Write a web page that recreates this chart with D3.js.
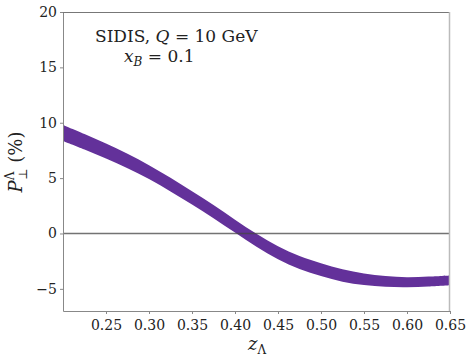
<!DOCTYPE html>
<meta charset="utf-8">
<style>
body { margin: 0; background: #fff; }
.axis path { stroke: #888; }
.axis line { stroke: #888; }
</style>
<body>
<script src="https://cdn.jsdelivr.net/npm/d3@7"></script>
<script>

var width = 471;
var height = 363;
var serif = "'DejaVu Serif', serif";

// z_Lambda grid and band edges (%)
var zGrid = [0.200, 0.225, 0.250, 0.275, 0.300, 0.325, 0.350, 0.375, 0.400, 0.425,
             0.450, 0.475, 0.500, 0.525, 0.550, 0.575, 0.600, 0.625, 0.650];
var upper = [9.80, 8.98, 8.13, 7.20, 6.17, 5.04, 3.82, 2.57, 1.25, -0.03,
             -1.15, -2.03, -2.68, -3.22, -3.61, -3.85, -3.95, -3.89, -3.79];
var lower = [8.35, 7.58, 6.77, 5.89, 4.91, 3.80, 2.61, 1.38, 0.08, -1.20,
             -2.32, -3.20, -3.85, -4.35, -4.65, -4.82, -4.86, -4.78, -4.67];

var xTicks = [0.25, 0.30, 0.35, 0.40, 0.45, 0.50, 0.55, 0.60, 0.65];
var yTicks = [-5, 0, 5, 10, 15, 20];

var margin = {left: 63, right: 21, top: 12, bottom: 52};

var svg = d3.select("body").append("svg")
    .attr("width", width)
    .attr("height", height)
    .style("font-family", serif);

var x = d3.scaleLinear().domain([0.2, 0.65]).range([margin.left, width - margin.right]);
var y = d3.scaleLinear().domain([-7, 20]).range([height - margin.bottom, margin.top]);

var band = zGrid.map(function(z, i) { return {z: z, hi: upper[i], lo: lower[i]}; });

var area = d3.area()
    .curve(d3.curveCatmullRom)
    .x(function(d) { return x(d.z); })
    .y0(function(d) { return y(d.lo); })
    .y1(function(d) { return y(d.hi); });

svg.append("path")
    .datum(band)
    .attr("d", area)
    .attr("fill", "#63319a");

// zero line
svg.append("line")
    .attr("x1", x(0.2)).attr("x2", x(0.65))
    .attr("y1", y(0)).attr("y2", y(0))
    .attr("stroke", "#444")
    .attr("stroke-opacity", 0.75)
    .attr("stroke-width", 1.5);

// axes
var xAxis = svg.append("g")
    .attr("class", "axis")
    .attr("transform", "translate(0," + y(-7) + ")")
    .call(d3.axisBottom(x).tickValues(xTicks).tickSize(3).tickSizeOuter(0)
      .tickFormat(d3.format(".2f")));
xAxis.attr("font-family", serif);
xAxis.selectAll("text").attr("font-size", 14).attr("fill", "#222").attr("dy", "0.95em");

var yAxis = svg.append("g")
    .attr("class", "axis")
    .attr("transform", "translate(" + x(0.2) + ",0)")
    .call(d3.axisLeft(y).tickValues(yTicks).tickSize(3).tickSizeOuter(0)
      .tickFormat(function(d) { return d < 0 ? "\u2212" + Math.abs(d) : d; }));
yAxis.attr("font-family", serif);
yAxis.selectAll("text").attr("font-size", 14).attr("fill", "#222");

// top and right spines
svg.append("line")
    .attr("x1", x(0.2)).attr("x2", x(0.65))
    .attr("y1", y(20) + 0.5).attr("y2", y(20) + 0.5)
    .attr("stroke", "#777");
svg.append("line")
    .attr("x1", x(0.65) - 0.5).attr("x2", x(0.65) - 0.5)
    .attr("y1", y(20)).attr("y2", y(-7))
    .attr("stroke", "#bbb").attr("stroke-width", 1.5);

// annotations
var t1 = svg.append("text").attr("x", 95).attr("y", 42)
    .attr("font-size", 17).attr("fill", "#222");
t1.append("tspan").text("SIDIS, ");
t1.append("tspan").attr("font-style", "italic").text("Q");
t1.append("tspan").text(" = 10 GeV");

var t2 = svg.append("text").attr("x", 124).attr("y", 62)
    .attr("font-size", 17).attr("fill", "#222");
t2.append("tspan").attr("font-style", "italic").text("x");
t2.append("tspan").attr("font-style", "italic").attr("font-size", 12).attr("dy", 4).text("B");
t2.append("tspan").attr("dy", -4).text(" = 0.1");

// x label
var xl = svg.append("text").attr("x", 248).attr("y", 350)
    .attr("font-size", 18).attr("fill", "#222");
xl.append("tspan").attr("font-style", "italic").text("z");
xl.append("tspan").attr("font-size", 12).attr("dy", 4).text("\u039B");

// y label
var yl = svg.append("text")
    .attr("transform", "translate(22,162) rotate(-90)")
    .attr("text-anchor", "middle")
    .attr("font-size", 18).attr("fill", "#222");
yl.append("tspan").attr("font-style", "italic").text("P");
yl.append("tspan").attr("font-size", 12).attr("dy", -8).text("\u039B");
yl.append("tspan").attr("font-size", 12).attr("dx", -8).attr("dy", 13).text("\u22A5");
yl.append("tspan").attr("dy", -5).text(" (%)");

</script>
</body>
</html>
